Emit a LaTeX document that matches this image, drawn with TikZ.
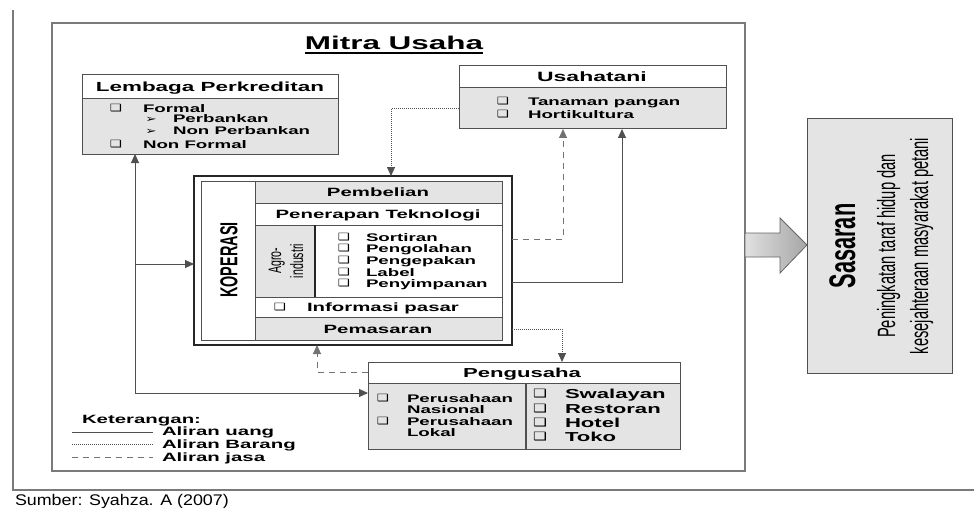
\documentclass[tikz,border=0pt]{standalone}
\usepackage{fontspec}
\setmainfont{Liberation Sans}[FakeStretch=1.7]
\newfontfamily\rotfont{Liberation Sans}[FakeStretch=0.588]
\newfontfamily\srcfont{Liberation Sans}[FakeStretch=1.16]
\newfontfamily\symfont{DejaVu Sans}[FakeStretch=1.35]
\usetikzlibrary{arrows.meta}
\definecolor{boxgray}{HTML}{E4E4E4}
\definecolor{linegray}{HTML}{505050}
\definecolor{framegray}{HTML}{7A7A7A}
\newcommand{\setfs}[1]{\fontsize{#1}{#1}\selectfont}
\tikzset{
  txt/.style={inner sep=0pt, outer sep=0pt},
  lbl/.style={txt, anchor=base west, font=\bfseries\setfs{11}},
  bigl/.style={txt, anchor=base west, font=\bfseries\setfs{13}},
  hdr/.style={txt, anchor=base, font=\bfseries\setfs{12}},
  ttl/.style={txt, anchor=base, font=\bfseries\setfs{13.2}},
  cb/.style={txt, anchor=base, font=\symfont\setfs{10}},
  cbb/.style={txt, anchor=base, font=\symfont\setfs{11.5}},
  bul/.style={txt, anchor=base, font=\symfont\setfs{10}},
  box/.style={draw=linegray, line width=1pt, inner sep=0pt, outer sep=0pt, anchor=north west},
  tip/.style={-{Triangle[length=9pt,width=8pt]}},
  money/.style={draw=linegray, line width=1pt},
  goods/.style={draw=linegray, line width=1pt, dash pattern=on 1pt off 1pt},
  service/.style={draw=black!55, line width=1pt, dash pattern=on 6pt off 5pt},
}
\begin{document}
\begin{tikzpicture}[x=1pt,y=-1pt]
\useasboundingbox (0,0) rectangle (974,508);
\fill[white] (0,0) rectangle (974,508);
% outer L frame
\draw[framegray, line width=2pt] (13,10) -- (13,490) -- (974,490);
% Mitra Usaha frame
\node[draw=framegray, line width=1.5pt, inner sep=0pt, outer sep=0pt, anchor=north west,
      minimum width=693pt, minimum height=448pt] (mitra) at (52,23) {};
\node[txt, anchor=base, font=\bfseries\setfs{18.5}] (title) at (394,50) {Mitra Usaha};
\draw[black, line width=1.4pt] ([yshift=-3pt]title.base west) -- ([yshift=-3pt]title.base east);

% Lembaga Perkreditan
\node[box, fill=boxgray, minimum width=256pt, minimum height=79pt] (lemb) at (82,75) {};
\filldraw[fill=white, draw=linegray, line width=1pt] (lemb.north west) rectangle (lemb.east |- 0,99);
\node[ttl] (lembt) at (210,92) {Lembaga Perkreditan};
\node[cb] (lc1) at (116,112) {❑};
\node[lbl] (l1) at (143,113) {Formal};
\node[bul] (lb1) at (151,123) {➢};
\node[lbl] (l2) at (173,123) {Perbankan};
\node[bul] (lb2) at (151,135) {➢};
\node[lbl] (l3) at (173,135) {Non Perbankan};
\node[cb] (lc2) at (116,147) {❑};
\node[lbl] (l4) at (143,148) {Non Formal};

% Usahatani
\node[box, fill=boxgray, minimum width=267pt, minimum height=63pt] (usaha) at (459,66) {};
\filldraw[fill=white, draw=linegray, line width=1pt] (usaha.north west) rectangle (usaha.east |- 0,88);
\node[txt, anchor=base, font=\bfseries\setfs{13.5}] (usahat) at (592,82) {Usahatani};
\node[cb] (uc1) at (503,105) {❑};
\node[lbl] (u1) at (528,106) {Tanaman pangan};
\node[cb] (uc2) at (503,118) {❑};
\node[lbl] (u2) at (528,119) {Hortikultura};

% Koperasi
\node[box, draw=black!85, line width=1.5pt, fill=white, minimum width=318pt, minimum height=169pt] (kop) at (194,176) {};
\fill[boxgray] (255,181) rectangle (502,203);
\fill[boxgray] (255,317) rectangle (502,340);
\fill[boxgray] (255,225) rectangle (315,297);
\draw[linegray, line width=1pt] (201,181) rectangle (502,340);
\draw[linegray, line width=1pt] (255,181) -- (255,340);
\draw[linegray, line width=1pt] (255,203) -- (502,203);
\draw[linegray, line width=1pt] (255,225) -- (502,225);
\draw[linegray, line width=1pt] (255,297) -- (502,297);
\draw[linegray, line width=1pt] (255,317) -- (502,317);
\draw[black!85, line width=2.5pt] (315,225) -- (315,297);
\node[txt, rotate=90, font=\rotfont\bfseries\setfs{24.5}] (koptxt) at (229,260) {KOPERASI};
\node[txt, rotate=90, align=center, font=\rotfont\fontsize{18}{22}\selectfont] (agro) at (286,261) {Agro-\\industri};
\node[hdr] (pemb) at (378,196) {Pembelian};
\node[hdr] (pener) at (378,218) {Penerapan Teknologi};
\node[cb] (kc1) at (344,240) {❑};
\node[lbl] (k1) at (366,241) {Sortiran};
\node[cb] (kc2) at (344,251) {❑};
\node[lbl] (k2) at (366,252) {Pengolahan};
\node[cb] (kc3) at (344,263) {❑};
\node[lbl] (k3) at (366,264) {Pengepakan};
\node[cb] (kc4) at (344,275) {❑};
\node[lbl] (k4) at (366,276) {Label};
\node[cb] (kc5) at (344,286) {❑};
\node[lbl] (k5) at (366,287) {Penyimpanan};
\node[cb] (ic) at (280,310) {❑};
\node[txt, anchor=base west, font=\bfseries\setfs{12}] (info) at (307,311) {Informasi pasar};
\node[hdr] (pemas) at (378,333) {Pemasaran};

% Pengusaha
\node[box, fill=boxgray, minimum width=312pt, minimum height=87pt] (peng) at (368,362) {};
\filldraw[fill=white, draw=linegray, line width=1pt] (peng.north west) rectangle (peng.east |- 0,383);
\draw[linegray, line width=1.2pt] (526,383) -- (526,449);
\node[txt, anchor=base, font=\bfseries\setfs{13}] (pengt) at (522,377) {Pengusaha};
\node[cb] (pc1) at (383,401) {❑};
\node[lbl] (p1) at (407,402) {Perusahaan};
\node[lbl] (p2) at (407,413) {Nasional};
\node[cb] (pc2) at (383,424) {❑};
\node[lbl] (p3) at (407,425) {Perusahaan};
\node[lbl] (p4) at (407,436) {Lokal};
\node[cbb] (rc1) at (540,397) {❑};
\node[bigl] (r1) at (565,398) {Swalayan};
\node[cbb] (rc2) at (540,412) {❑};
\node[bigl] (r2) at (565,413) {Restoran};
\node[cbb] (rc3) at (540,426) {❑};
\node[bigl] (r3) at (565,427) {Hotel};
\node[cbb] (rc4) at (540,440) {❑};
\node[bigl] (r4) at (565,441) {Toko};

% Sasaran
\node[box, fill=boxgray, minimum width=145pt, minimum height=254pt] (sas) at (807,119) {};
\node[txt, rotate=90, anchor=base, font=\rotfont\bfseries\setfs{37}] (sas1) at (855,246) {Sasaran};
\node[txt, rotate=90, anchor=base, font=\rotfont\setfs{25}] (sas2) at (895,246) {Peningkatan taraf hidup dan};
\node[txt, rotate=90, anchor=base, font=\rotfont\setfs{25}] (sas3) at (928,246) {kesejahteraan masyarakat petani};

% big arrow
\draw[draw=black!60, line width=0.8pt, left color=black!12, right color=black!35]
  (mitra.east |- 0,233) -- (780,233) -- (780,218) -- (sas.west |- 0,245) -- (780,273) -- (780,257) -- (mitra.east |- 0,257) -- cycle;

% connectors
\coordinate (vx) at (135,393);
\coordinate (vk) at (135,264);
\draw[money, {Triangle[length=9pt,width=8pt]}-{Triangle[length=9pt,width=8pt]}]
  (lemb.south -| vx) -- (vx) -- (peng.west |- vx);
\draw[money, tip] (vk) -- (kop.west |- vk);

\coordinate (g1) at (391,109);
\draw[goods, tip] (usaha.west |- g1) -- (g1) -- (kop.north -| g1);

\coordinate (s1) at (563,239);
\draw[service, tip] (kop.east |- s1) -- (s1) -- (usaha.south -| s1);

\coordinate (m1) at (622,282);
\draw[money, tip] (kop.east |- m1) -- (m1) -- (usaha.south -| m1);

\coordinate (g2) at (562,329);
\draw[goods, tip] (kop.east |- g2) -- (g2) -- (peng.north -| g2);

\coordinate (s2) at (317,372);
\draw[service, tip] (peng.west |- s2) -- (s2) -- (kop.south -| s2);

% legend
\node[txt, anchor=base west, font=\bfseries\setfs{12}] (ket) at (82,423) {Keterangan:};
\node[txt, anchor=base west, font=\bfseries\setfs{12}] (leg1) at (162,435) {Aliran uang};
\node[txt, anchor=base west, font=\bfseries\setfs{12}] (leg2) at (162,448) {Aliran Barang};
\node[txt, anchor=base west, font=\bfseries\setfs{12}] (leg3) at (162,461) {Aliran jasa};
\draw[money, line width=0.7pt] (72,432) -- (153,432);
\draw[goods, line width=0.7pt] (72,444) -- (153,444);
\draw[service, line width=0.7pt] (72,457) -- (153,457);

% source
\node[txt, anchor=base west, font=\srcfont\setfs{15.4}] (src) at (15,505) {Sumber: Syahza. A (2007)};
\end{tikzpicture}
\end{document}
